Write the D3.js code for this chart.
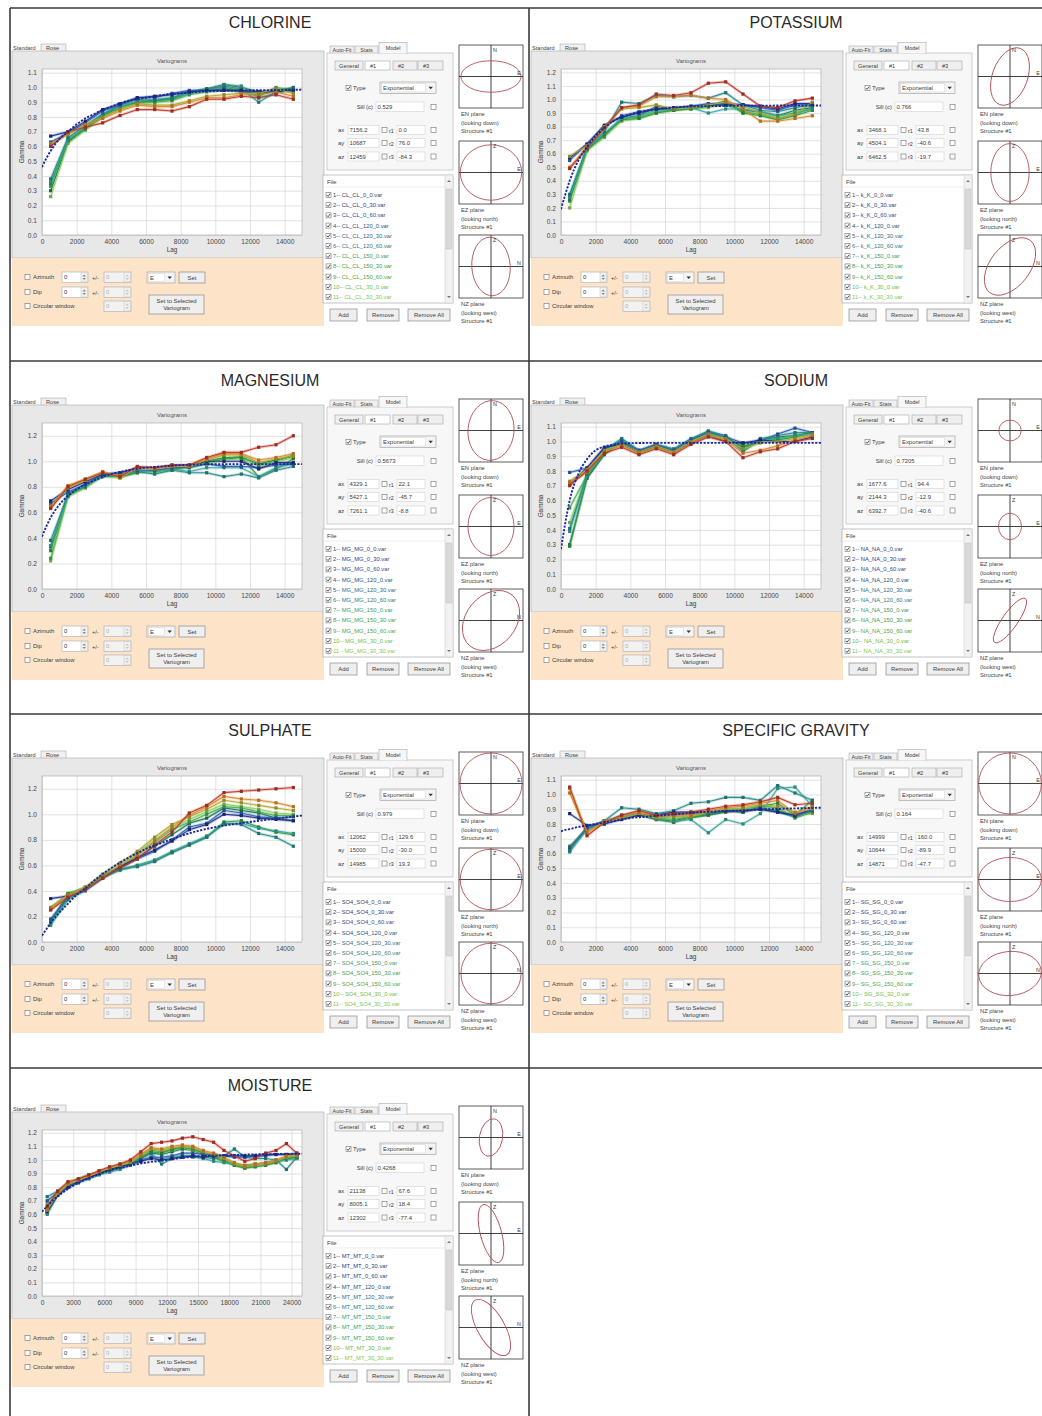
<!DOCTYPE html>
<html>
<head>
<meta charset="utf-8">
<script src="https://cdn.jsdelivr.net/npm/d3@7"></script>
<style>
  body { margin: 0; background: #fff; }
  svg { display: block; font-family: "Liberation Sans", Arial, sans-serif; }
</style>
</head>
<body>
<svg id="fig" width="1042" height="1416"></svg>
<script>
// ---------- data ----------
const titles = ["CHLORINE", "POTASSIUM", "MAGNESIUM", "SODIUM", "SULPHATE", "SPECIFIC GRAVITY", "MOISTURE"];
const filePrefixes = ["CL_CL", "k_K", "MG_MG", "NA_NA", "SO4_SO4", "SG_SG", "MT_MT"];
const fileSuffixes = ["0_0", "0_30", "0_60", "120_0", "120_30", "120_60", "150_0", "150_30", "150_60", "30_0", "30_30"];

const lags15k = [500, 1500, 2500, 3500, 4500, 5500, 6500, 7500, 8500, 9500, 10500, 11500, 12500, 13500, 14500];
const lags25k = [500, 1500, 2500, 3500, 4500, 5500, 6500, 7500, 8500, 9500, 10500, 11500, 12500, 13500, 14500,
                 15500, 16500, 17500, 18500, 19500, 20500, 21500, 22500, 23500, 24500];
const xTicks15k = [0, 2000, 4000, 6000, 8000, 10000, 12000, 14000];
const xTicks25k = [0, 3000, 6000, 9000, 12000, 15000, 18000, 21000, 24000];
const xMax = [15000, 15000, 15000, 15000, 15000, 15000, 25000];

const yTicks11 = [0, 0.1, 0.2, 0.3, 0.4, 0.5, 0.6, 0.7, 0.8, 0.9, 1.0, 1.1];
const yTicks12 = [0, 0.1, 0.2, 0.3, 0.4, 0.5, 0.6, 0.7, 0.8, 0.9, 1.0, 1.1, 1.2];
const yTicksBy2 = [0, 0.2, 0.4, 0.6, 0.8, 1.0, 1.2];
const yMax = [1.125, 1.225, 1.3, 1.125, 1.3, 1.125, 1.22];

// experimental variograms (gamma per lag), files 1..11
const chlorine = [
  [0.60, 0.70, 0.73, 0.76, 0.81, 0.85, 0.85, 0.84, 0.87, 0.92, 0.92, 0.94, 0.93, 0.95, 0.92],
  [0.61, 0.69, 0.74, 0.79, 0.84, 0.88, 0.87, 0.87, 0.90, 0.93, 0.93, 0.95, 0.95, 0.97, 0.94],
  [0.62, 0.68, 0.75, 0.80, 0.85, 0.89, 0.88, 0.88, 0.91, 0.94, 0.95, 0.96, 0.96, 0.99, 0.96],
  [0.67, 0.70, 0.77, 0.85, 0.89, 0.93, 0.94, 0.95, 0.97, 0.98, 0.98, 0.98, 0.97, 0.97, 0.98],
  [0.63, 0.69, 0.76, 0.84, 0.88, 0.93, 0.93, 0.96, 0.98, 0.98, 0.99, 0.97, 0.96, 0.98, 0.98],
  [0.38, 0.66, 0.74, 0.82, 0.88, 0.92, 0.91, 0.93, 0.97, 0.99, 1.01, 0.99, 0.90, 0.97, 0.99],
  [0.36, 0.65, 0.73, 0.82, 0.87, 0.91, 0.92, 0.93, 0.96, 0.98, 1.02, 1.01, 0.93, 0.96, 0.99],
  [0.35, 0.64, 0.72, 0.81, 0.87, 0.90, 0.91, 0.92, 0.96, 0.99, 1.00, 0.98, 0.95, 0.98, 0.99],
  [0.33, 0.64, 0.72, 0.80, 0.86, 0.90, 0.90, 0.91, 0.95, 0.97, 0.98, 0.97, 0.94, 1.00, 0.98],
  [0.26, 0.62, 0.71, 0.80, 0.86, 0.89, 0.90, 0.92, 0.96, 0.98, 1.00, 0.99, 0.96, 0.99, 0.97],
  [0.30, 0.63, 0.72, 0.81, 0.86, 0.90, 0.91, 0.92, 0.97, 0.99, 1.02, 1.00, 0.97, 0.98, 1.00]
];
const potassium = [
  [0.49, 0.64, 0.79, 0.94, 0.96, 1.04, 1.03, 1.05, 1.12, 1.13, 1.04, 0.95, 0.94, 0.99, 1.01],
  [0.50, 0.65, 0.78, 0.94, 0.95, 1.02, 1.02, 1.03, 1.01, 1.00, 0.93, 0.84, 0.84, 0.86, 0.88],
  [0.58, 0.66, 0.80, 0.93, 0.94, 0.96, 0.93, 0.94, 0.96, 0.98, 0.95, 0.90, 0.86, 0.89, 0.98],
  [0.57, 0.67, 0.81, 0.87, 0.90, 0.93, 0.94, 0.95, 0.96, 0.96, 0.96, 0.95, 0.93, 0.97, 0.97],
  [0.55, 0.67, 0.80, 0.88, 0.91, 0.93, 0.93, 0.95, 0.97, 0.97, 0.96, 0.94, 0.92, 0.96, 0.96],
  [0.30, 0.65, 0.76, 0.98, 0.97, 1.03, 1.02, 1.03, 1.01, 1.05, 0.96, 0.92, 0.91, 0.94, 0.96],
  [0.28, 0.64, 0.75, 0.86, 0.88, 0.92, 0.93, 0.94, 0.90, 0.93, 0.93, 0.91, 0.88, 0.90, 0.93],
  [0.26, 0.63, 0.74, 0.85, 0.86, 0.90, 0.92, 0.93, 0.95, 0.99, 0.90, 0.88, 0.85, 0.88, 0.92],
  [0.25, 0.64, 0.73, 0.86, 0.87, 0.91, 0.92, 0.94, 0.96, 0.98, 0.91, 0.89, 0.86, 0.89, 0.94],
  [0.20, 0.62, 0.72, 0.84, 0.86, 0.90, 0.92, 0.93, 0.94, 0.97, 0.90, 0.90, 0.87, 0.91, 0.93],
  [0.29, 0.63, 0.74, 0.86, 0.88, 0.95, 0.93, 0.94, 0.95, 0.96, 0.92, 0.91, 0.88, 0.92, 0.94]
];
const magnesium = [
  [0.63, 0.80, 0.86, 0.91, 0.88, 0.96, 0.95, 0.97, 0.97, 1.03, 1.07, 1.07, 1.11, 1.13, 1.20],
  [0.65, 0.81, 0.86, 0.92, 0.87, 0.95, 0.94, 0.96, 0.97, 1.02, 1.06, 1.06, 1.01, 1.03, 1.06],
  [0.64, 0.79, 0.85, 0.91, 0.89, 0.94, 0.95, 0.96, 0.96, 1.01, 1.05, 1.05, 0.99, 1.02, 1.04],
  [0.69, 0.78, 0.84, 0.90, 0.91, 0.95, 0.95, 0.97, 0.97, 1.00, 1.00, 1.00, 0.94, 0.99, 0.99],
  [0.67, 0.76, 0.82, 0.90, 0.90, 0.93, 0.93, 0.95, 0.95, 0.98, 0.96, 0.96, 0.95, 0.97, 0.98],
  [0.38, 0.74, 0.80, 0.89, 0.88, 0.92, 0.90, 0.93, 0.91, 0.91, 0.88, 0.90, 0.87, 0.93, 0.96],
  [0.34, 0.73, 0.81, 0.88, 0.89, 0.92, 0.92, 0.94, 0.92, 0.95, 0.95, 0.95, 0.88, 0.95, 0.98],
  [0.30, 0.75, 0.81, 0.89, 0.88, 0.91, 0.93, 0.94, 0.96, 1.00, 1.03, 1.03, 0.88, 0.94, 1.02],
  [0.24, 0.73, 0.80, 0.89, 0.89, 0.92, 0.92, 0.93, 0.96, 0.99, 1.02, 1.04, 0.97, 1.00, 1.05],
  [0.22, 0.72, 0.79, 0.88, 0.87, 0.91, 0.91, 0.93, 0.95, 0.98, 1.01, 1.02, 0.96, 0.99, 1.03],
  [0.33, 0.74, 0.82, 0.89, 0.88, 0.92, 0.92, 0.94, 0.96, 0.99, 1.02, 1.03, 0.98, 1.01, 1.04]
];
const sodium = [
  [0.70, 0.80, 0.92, 0.96, 0.91, 0.95, 0.91, 0.98, 1.03, 1.00, 0.89, 0.93, 0.95, 1.00, 1.02],
  [0.72, 0.79, 0.93, 0.97, 0.92, 0.96, 0.92, 0.99, 1.04, 1.01, 0.92, 0.94, 0.97, 1.01, 1.04],
  [0.73, 0.81, 0.94, 0.98, 0.93, 0.97, 0.93, 1.00, 1.05, 1.02, 0.95, 0.99, 1.00, 1.02, 1.05],
  [0.71, 0.82, 0.96, 0.98, 0.93, 0.97, 0.93, 0.99, 1.04, 1.00, 0.99, 1.01, 1.00, 1.00, 1.03],
  [0.79, 0.82, 0.95, 1.00, 0.94, 0.98, 0.94, 1.01, 1.06, 1.03, 0.99, 1.00, 1.05, 1.09, 1.06],
  [0.41, 0.78, 0.94, 1.02, 0.94, 0.98, 0.95, 1.02, 1.07, 1.04, 0.94, 1.02, 1.04, 1.06, 1.06],
  [0.39, 0.77, 0.93, 1.01, 0.93, 0.97, 0.94, 1.01, 1.06, 1.03, 0.93, 1.01, 1.02, 1.04, 1.05],
  [0.29, 0.76, 0.92, 1.00, 0.92, 0.96, 0.93, 1.01, 1.07, 1.03, 0.96, 1.01, 1.01, 1.03, 1.06],
  [0.55, 0.77, 0.93, 0.99, 0.93, 0.97, 0.92, 1.00, 1.05, 1.02, 0.97, 1.00, 1.02, 1.04, 1.05],
  [0.45, 0.78, 0.92, 1.00, 0.92, 0.96, 0.93, 1.00, 1.06, 1.03, 0.98, 1.00, 1.01, 1.03, 1.04],
  [0.30, 0.75, 0.91, 1.00, 0.93, 0.97, 0.94, 1.01, 1.05, 1.02, 0.96, 1.01, 1.03, 1.04, 1.06]
];
const sulphate = [
  [0.25, 0.35, 0.41, 0.50, 0.58, 0.65, 0.76, 0.86, 1.01, 1.07, 1.17, 1.18, 1.19, 1.20, 1.21],
  [0.26, 0.36, 0.42, 0.51, 0.60, 0.68, 0.79, 0.90, 0.99, 1.06, 1.14, 1.12, 1.11, 1.09, 1.06],
  [0.27, 0.37, 0.43, 0.53, 0.62, 0.71, 0.82, 0.92, 0.98, 1.04, 1.11, 1.09, 1.07, 1.05, 1.03],
  [0.34, 0.36, 0.42, 0.51, 0.59, 0.66, 0.72, 0.79, 0.88, 0.92, 1.00, 0.99, 0.97, 0.96, 0.95],
  [0.18, 0.35, 0.41, 0.50, 0.58, 0.65, 0.71, 0.80, 0.90, 0.93, 1.03, 1.01, 0.98, 0.97, 0.98],
  [0.16, 0.34, 0.40, 0.50, 0.57, 0.59, 0.63, 0.70, 0.76, 0.82, 0.93, 0.92, 0.85, 0.82, 0.75],
  [0.13, 0.33, 0.41, 0.51, 0.56, 0.60, 0.64, 0.71, 0.77, 0.83, 0.92, 0.93, 0.89, 0.87, 0.85],
  [0.15, 0.38, 0.42, 0.52, 0.57, 0.60, 0.64, 0.70, 0.76, 0.82, 0.94, 0.95, 0.90, 0.86, 0.84],
  [0.27, 0.37, 0.43, 0.52, 0.59, 0.68, 0.78, 0.88, 0.94, 1.00, 1.06, 1.05, 1.02, 0.99, 0.99],
  [0.26, 0.38, 0.42, 0.53, 0.60, 0.70, 0.80, 0.89, 0.96, 1.02, 1.08, 1.06, 1.04, 1.01, 1.00],
  [0.17, 0.36, 0.41, 0.51, 0.58, 0.66, 0.75, 0.84, 0.93, 0.97, 1.05, 1.03, 1.01, 0.97, 0.95]
];
const specificGravity = [
  [1.05, 0.72, 0.81, 0.86, 0.89, 0.86, 0.87, 0.88, 0.90, 0.92, 0.93, 0.95, 0.98, 0.93, 0.94],
  [1.01, 0.74, 0.82, 0.85, 0.88, 0.85, 0.86, 0.86, 0.89, 0.91, 0.92, 0.94, 0.96, 0.87, 0.92],
  [1.04, 0.75, 0.81, 0.84, 0.87, 0.84, 0.85, 0.85, 0.88, 0.90, 0.90, 0.93, 0.92, 0.88, 0.90],
  [0.87, 0.79, 0.80, 0.83, 0.86, 0.86, 0.88, 0.88, 0.88, 0.89, 0.89, 0.90, 0.88, 0.86, 0.90],
  [0.64, 0.77, 0.82, 0.84, 0.87, 0.85, 0.86, 0.87, 0.87, 0.89, 0.88, 0.91, 0.89, 0.85, 0.89],
  [0.62, 0.78, 0.82, 0.91, 0.90, 0.87, 0.89, 0.94, 0.95, 0.98, 0.98, 0.96, 1.06, 1.01, 0.96],
  [0.61, 0.76, 0.81, 0.86, 0.86, 0.84, 0.82, 0.83, 0.74, 0.83, 0.80, 0.87, 1.04, 1.05, 0.92],
  [0.63, 0.77, 0.81, 0.85, 0.87, 0.83, 0.81, 0.84, 0.86, 0.89, 0.88, 0.92, 0.94, 0.86, 0.96],
  [0.65, 0.76, 0.82, 0.84, 0.86, 0.84, 0.83, 0.85, 0.87, 0.90, 0.90, 0.92, 0.91, 0.84, 0.88],
  [0.62, 0.78, 0.80, 0.85, 0.87, 0.85, 0.84, 0.86, 0.88, 0.90, 0.91, 0.93, 0.90, 0.86, 0.87],
  [0.64, 0.77, 0.81, 0.84, 0.86, 0.83, 0.82, 0.85, 0.86, 0.88, 0.89, 0.90, 0.88, 0.85, 0.89]
];
const moisture = [
  [0.66, 0.77, 0.84, 0.86, 0.89, 0.92, 0.95, 0.97, 1.00, 1.06, 1.12, 1.13, 1.14, 1.16, 1.17, 1.15, 1.13, 1.07, 1.03, 0.99, 1.01, 1.05, 1.07, 1.12, 1.05],
  [0.64, 0.76, 0.83, 0.85, 0.88, 0.92, 0.94, 0.97, 0.99, 1.04, 1.09, 1.08, 1.10, 1.11, 1.10, 1.07, 1.05, 1.02, 0.98, 0.96, 0.97, 0.98, 1.00, 1.03, 1.04],
  [0.63, 0.75, 0.82, 0.85, 0.88, 0.91, 0.94, 0.96, 0.98, 1.03, 1.08, 1.07, 1.09, 1.10, 1.09, 1.06, 1.04, 1.01, 0.97, 0.95, 0.96, 0.97, 0.99, 1.02, 1.03],
  [0.62, 0.74, 0.80, 0.84, 0.87, 0.90, 0.93, 0.95, 0.97, 0.99, 1.01, 1.00, 1.01, 1.02, 1.03, 1.02, 1.03, 1.03, 1.03, 1.03, 1.03, 1.04, 1.04, 1.04, 1.04],
  [0.70, 0.76, 0.81, 0.84, 0.88, 0.91, 0.93, 0.95, 0.97, 1.00, 1.02, 1.02, 1.03, 1.05, 1.05, 1.04, 1.04, 1.03, 1.02, 1.02, 1.03, 1.03, 1.04, 1.04, 1.05],
  [0.73, 0.77, 0.82, 0.86, 0.89, 0.91, 0.93, 0.96, 0.98, 1.01, 1.05, 0.97, 1.01, 1.03, 1.03, 1.02, 1.01, 1.03, 1.08, 1.02, 1.01, 1.01, 1.00, 0.93, 1.02],
  [0.60, 0.74, 0.80, 0.83, 0.86, 0.89, 0.91, 0.93, 0.96, 0.99, 1.02, 1.01, 1.02, 1.03, 1.02, 1.01, 0.99, 0.98, 0.97, 0.96, 0.97, 0.98, 0.99, 1.00, 1.01],
  [0.61, 0.75, 0.81, 0.84, 0.87, 0.90, 0.92, 0.94, 0.97, 1.02, 1.06, 1.05, 1.08, 1.09, 1.08, 1.05, 1.02, 0.99, 0.96, 0.94, 0.95, 0.96, 0.98, 1.01, 1.02],
  [0.65, 0.76, 0.82, 0.85, 0.88, 0.90, 0.93, 0.95, 0.98, 1.03, 1.07, 1.06, 1.07, 1.10, 1.09, 1.06, 1.03, 1.00, 0.97, 0.95, 0.96, 0.97, 0.99, 1.02, 1.03],
  [0.68, 0.77, 0.83, 0.86, 0.89, 0.91, 0.94, 0.96, 0.99, 1.04, 1.08, 1.07, 1.08, 1.09, 1.07, 1.05, 1.02, 0.99, 0.96, 0.94, 0.95, 0.97, 0.98, 1.00, 1.01],
  [0.62, 0.75, 0.81, 0.84, 0.87, 0.90, 0.92, 0.95, 0.97, 1.01, 1.05, 1.04, 1.06, 1.08, 1.07, 1.04, 1.02, 0.99, 0.97, 0.95, 0.96, 0.97, 0.99, 1.01, 1.02]
];

// fitted exponential models, sampled along the lag axis
const modelLag15k = [0, 250, 500, 1000, 1500, 2000, 2500, 3000, 4000, 5000, 6000, 7000, 8000, 9000, 10000, 12000, 15000];
const modelLag25k = [0, 500, 1000, 2000, 3000, 4000, 5000, 6000, 8000, 10000, 12000, 14000, 16000, 18000, 20000, 22000, 25000];
const chlorineModel  = [0.46, 0.52, 0.57, 0.65, 0.70, 0.75, 0.79, 0.82, 0.87, 0.91, 0.93, 0.95, 0.96, 0.97, 0.975, 0.98, 0.985];
const potassiumModel = [0.19, 0.30, 0.40, 0.55, 0.65, 0.73, 0.79, 0.84, 0.89, 0.92, 0.935, 0.945, 0.95, 0.952, 0.954, 0.955, 0.956];
const magnesiumModel = [0.41, 0.49, 0.56, 0.66, 0.73, 0.78, 0.82, 0.85, 0.90, 0.93, 0.95, 0.96, 0.97, 0.975, 0.977, 0.978, 0.978];
const sodiumModel    = [0.27, 0.45, 0.60, 0.78, 0.88, 0.94, 0.965, 0.978, 0.988, 0.99, 0.99, 0.99, 0.99, 0.99, 0.99, 0.99, 0.99];
const sulphateModel  = [0.05, 0.10, 0.15, 0.23, 0.30, 0.37, 0.42, 0.48, 0.58, 0.66, 0.73, 0.78, 0.83, 0.87, 0.90, 0.94, 0.99];
const sgModel        = [0.75, 0.76, 0.765, 0.78, 0.79, 0.80, 0.81, 0.82, 0.84, 0.85, 0.86, 0.87, 0.88, 0.885, 0.89, 0.90, 0.91];
const moistureModel  = [0.62, 0.66, 0.70, 0.76, 0.81, 0.85, 0.88, 0.91, 0.95, 0.98, 1.00, 1.02, 1.03, 1.035, 1.04, 1.043, 1.045];

// model parameters shown in the Model tab
const sillValues = ["0.529", "0.766", "0.5673", "0.7205", "0.979", "0.164", "0.4268"];
const rangeX = ["7156.2", "3468.1", "4329.1", "1677.6", "12062", "14999", "21138"];
const rangeY = ["10687", "4504.1", "5427.1", "2144.3", "15000", "10644", "8005.1"];
const rangeZ = ["12459", "6462.5", "7261.1", "6392.7", "14985", "14871", "12302"];
const rot1 = ["0.0", "43.8", "22.1", "94.4", "129.6", "160.0", "67.6"];
const rot2 = ["76.0", "-40.6", "-45.7", "-12.9", "-30.0", "-89.9", "18.4"];
const rot3 = ["-84.3", "-19.7", "-8.8", "-40.6", "19.3", "-47.7", "-77.4"];

// anisotropy ellipses: [semi-axis along horizontal, semi-axis along vertical, rotation deg]
const ellipseEN = [[0.94, 0.50, 0], [0.55, 0.95, 20], [0.72, 0.95, 5], [0.35, 0.33, 0], [0.97, 0.97, 0], [0.98, 0.97, 0], [0.36, 0.60, 10]];
const ellipseEZ = [[0.96, 0.88, 0], [0.60, 0.92, 0], [0.72, 0.92, 0], [0.36, 0.42, 0], [0.96, 0.96, 0], [0.98, 0.70, 0], [0.33, 0.95, -15]];
const ellipseNZ = [[0.60, 0.93, -4], [0.62, 1.05, 38], [0.78, 1.05, 40], [0.24, 0.85, 35], [0.94, 0.96, 0], [0.98, 0.70, -5], [0.42, 1.0, -30]];
const planeNames = ["EN plane", "EZ plane", "NZ plane"];
const planeViews = ["(looking down)", "(looking north)", "(looking west)"];
const planeAxes = [["N", "E"], ["Z", "E"], ["Z", "N"]];

// ---------- styling ----------
const lineColors = ["#c0392b", "#d98b2b", "#b3a633", "#1f2e8a", "#2f62b3", "#2a8c8c", "#3aa79c", "#2f9a3f", "#4cb050", "#88cc66", "#1f7a55"];
const fileTextColors = ["#3b4566", "#2d3b86", "#33498a", "#2c5576", "#2f6c86", "#2e7e80", "#3d9a6a", "#3b9f4b", "#4aa84b", "#6ac04a", "#80c852"];
const UI_FONT = "'Liberation Sans', Arial, sans-serif";

const panels = titles.map((title, i) => ({
  title, prefix: filePrefixes[i],
  series: [chlorine, potassium, magnesium, sodium, sulphate, specificGravity, moisture][i],
  lags: i === 6 ? lags25k : lags15k,
  xTicks: i === 6 ? xTicks25k : xTicks15k,
  xMax: xMax[i],
  yTicks: [yTicks11, yTicks12, yTicksBy2, yTicks11, yTicksBy2, yTicks11, yTicks12][i],
  yMax: yMax[i],
  modelLag: i === 6 ? modelLag25k : modelLag15k,
  model: [chlorineModel, potassiumModel, magnesiumModel, sodiumModel, sulphateModel, sgModel, moistureModel][i],
  ellipses: [ellipseEN[i], ellipseEZ[i], ellipseNZ[i]],
  params: { sill: sillValues[i], ax: rangeX[i], ay: rangeY[i], az: rangeZ[i], r1: rot1[i], r2: rot2[i], r3: rot3[i] }
}));

// ---------- layout ----------
const rowTop = [0, 354, 707, 1061];
const colLeft = [0, 519];
const titleCX = [270, 796];
const titleCY = [22, 380, 730, 1085];

const svg = d3.select("#fig");
svg.append("rect").attr("width", 1042).attr("height", 1416).attr("fill", "#fff");

// ---------- small widget helpers ----------
function txt(g, x, y, s, size, opt = {}) {
  return g.append("text").attr("x", x).attr("y", y).attr("font-size", size)
    .attr("font-family", UI_FONT)
    .attr("fill", opt.fill || "#3c3c3c").attr("text-anchor", opt.anchor || "start")
    .attr("dominant-baseline", "central").text(s);
}
function rect(g, x, y, w, h, fill, stroke, sw) {
  return g.append("rect").attr("x", x).attr("y", y).attr("width", w).attr("height", h)
    .attr("fill", fill).attr("stroke", stroke || "none").attr("stroke-width", sw || 0.6);
}
function checkbox(g, x, y, checked) {
  rect(g, x, y, 5, 5, "#fff", "#707070", 0.6);
  if (checked) {
    g.append("path").attr("d", `M${x + 1},${y + 2.6}L${x + 2.1},${y + 3.9}L${x + 4.1},${y + 1.1}`)
      .attr("fill", "none").attr("stroke", "#2a2a2a").attr("stroke-width", 0.8);
  }
}
function button(g, x, y, w, h, lines) {
  rect(g, x, y, w, h, "#efefef", "#8a8a8a", 0.7);
  lines.forEach((l, k) => txt(g, x + w / 2, y + h / 2 + (k - (lines.length - 1) / 2) * 6.2, l, 5.9, { anchor: "middle" }));
}
function spinner(g, x, y, w, h, val, disabled) {
  rect(g, x, y, w, h, disabled ? "#f2f2f2" : "#fff", "#aaa", 0.6);
  txt(g, x + 2, y + h / 2, val, 5.9, { fill: disabled ? "#b0b0b0" : "#333" });
  rect(g, x + w - 7, y + 0.5, 6.5, h - 1, "#f0f0f0", "#c4c4c4", 0.5);
  g.append("path")
    .attr("d", `M${x + w - 5.6},${y + h / 2 - 0.8}l1.8,-2l1.8,2z M${x + w - 5.6},${y + h / 2 + 0.8}l1.8,2l1.8,-2z`)
    .attr("fill", disabled ? "#c8c8c8" : "#8a8a8a");
}
function dropdown(g, x, y, w, h, val) {
  rect(g, x, y, w, h, "#f4f4f4", "#9a9a9a", 0.6);
  rect(g, x + 1.5, y + 1.5, w - 12, h - 3, "#fff", "#c6c6c6", 0.4);
  txt(g, x + 3, y + h / 2, val, 5.9);
  g.append("path").attr("d", `M${x + w - 7.5},${y + h / 2 - 1}l2.2,2.4l2.2,-2.4z`).attr("fill", "#333");
}

// ---------- one variogram window ----------
function drawPanel(p, i) {
  const col = i % 2, row = Math.floor(i / 2);
  const g = svg.append("g").attr("transform", `translate(${colLeft[col]},${rowTop[row]})`);

  svg.append("text").attr("x", titleCX[col]).attr("y", titleCY[row])
    .attr("text-anchor", "middle").attr("dominant-baseline", "central")
    .attr("font-family", "'Liberation Sans', Arial, sans-serif").attr("font-size", 16)
    .attr("fill", "#2a2a2a").text(p.title);

  // Standard / Rose tabs
  txt(g, 13, 47.5, "Standard", 5.6);
  rect(g, 41, 44, 25, 7.5, "#f0f0f0", "#a8a8a8", 0.6);
  txt(g, 46, 48, "Rose", 5.6);

  // chart frame
  rect(g, 12, 51, 312, 207, "#e8e8e8", "#b3b3b3", 0.7);
  txt(g, 172, 60.5, "Variograms", 6, { anchor: "middle", fill: "#555" });

  const x = d3.scaleLinear().domain([0, p.xMax]).range([42, 302]);
  const y = d3.scaleLinear().domain([0, p.yMax]).range([235, 69]);

  rect(g, 42, 69, 260, 166, "#fff", "none");
  const gx = g.append("g").attr("transform", "translate(0,235)")
    .call(d3.axisBottom(x).tickValues(p.xTicks).tickSize(-166).tickPadding(4).tickFormat(d3.format("d")));
  const gy = g.append("g").attr("transform", "translate(42,0)")
    .call(d3.axisLeft(y).tickValues(p.yTicks).tickSize(-260).tickPadding(5).tickFormat(d3.format(".1f")));
  [gx, gy].forEach(a => {
    a.select(".domain").remove();
    a.selectAll("line").attr("stroke", "#d6d6d6").attr("stroke-width", 0.7);
    a.selectAll("text").attr("font-size", 6.6).attr("fill", "#474747").attr("font-family", UI_FONT);
  });
  rect(g, 42, 69, 260, 166, "none", "#a2a2a2", 0.6);

  txt(g, 172, 249.5, "Lag", 6.4, { anchor: "middle" });
  g.append("text").attr("transform", "translate(21,152) rotate(-90)")
    .attr("text-anchor", "middle").attr("dominant-baseline", "central")
    .attr("font-size", 6.4).attr("font-family", UI_FONT).attr("fill", "#3c3c3c").text("Gamma");

  const clipId = `plot-clip-${i}`;
  g.append("clipPath").attr("id", clipId).append("rect").attr("x", 42).attr("y", 69).attr("width", 260).attr("height", 166);
  const plot = g.append("g").attr("clip-path", `url(#${clipId})`);

  const line = d3.line().x((d, k) => x(p.lags[k])).y(d => y(d));
  const order = d3.range(p.series.length).reverse();
  order.forEach(k => {
    plot.append("path").attr("d", line(p.series[k])).attr("fill", "none")
      .attr("stroke", lineColors[k]).attr("stroke-width", 3).attr("stroke-opacity", 0.25);
  });
  order.forEach(k => {
    const s = p.series[k];
    plot.append("path").attr("d", line(s)).attr("fill", "none")
      .attr("stroke", lineColors[k]).attr("stroke-width", 1.1).attr("stroke-opacity", 0.95);
    plot.selectAll(null).data(s).join("rect")
      .attr("x", (d, j) => x(p.lags[j]) - 1.6).attr("y", d => y(d) - 1.6)
      .attr("width", 3.2).attr("height", 3.2)
      .attr("fill", d3.color(lineColors[k]).darker(0.6));
  });

  const modelLine = d3.line().curve(d3.curveMonotoneX)
    .x((d, k) => x(p.modelLag[k])).y(d => y(d));
  plot.append("path").attr("d", modelLine(p.model)).attr("fill", "none")
    .attr("stroke", "#1b2a9a").attr("stroke-width", 1.9).attr("stroke-dasharray", "2.2,1.4");

  // lag window controls
  rect(g, 12, 258, 312, 68, "#fde4c9", "none");
  checkbox(g, 25, 274.5, false); txt(g, 33, 277, "Azimuth", 5.9);
  spinner(g, 62, 272, 26, 10.5, "0", false);
  txt(g, 92, 277.5, "+/-", 5.6); spinner(g, 104, 272, 27, 10.5, "0", true);
  checkbox(g, 25, 289.5, false); txt(g, 33, 292, "Dip", 5.9);
  spinner(g, 62, 287, 26, 10.5, "0", false);
  txt(g, 92, 292.5, "+/-", 5.6); spinner(g, 104, 287, 27, 10.5, "0", true);
  checkbox(g, 25, 303.5, false); txt(g, 33, 306, "Circular window", 5.9);
  spinner(g, 104, 301, 27, 10.5, "0", true);
  dropdown(g, 147, 272, 28, 11, "E");
  button(g, 179, 272, 26, 11, ["Set"]);
  button(g, 149, 295, 55, 19, ["Set to Selected", "Variogram"]);

  // Model tab
  rect(g, 330, 46, 24, 7.5, "#f0f0f0", "#ababab", 0.6); txt(g, 342, 50, "Auto-Fit", 5.4, { anchor: "middle" });
  rect(g, 355, 46, 23, 7.5, "#f0f0f0", "#ababab", 0.6); txt(g, 366.5, 50, "Stats", 5.4, { anchor: "middle" });
  rect(g, 327, 53, 126, 117, "#f7f7f7", "#b9b9b9", 0.7);
  rect(g, 379, 42.5, 28, 11, "#f7f7f7", "#ababab", 0.6);
  g.append("line").attr("x1", 379.4).attr("x2", 406.6).attr("y1", 53.1).attr("y2", 53.1).attr("stroke", "#f7f7f7").attr("stroke-width", 1);
  txt(g, 393, 47.5, "Model", 5.4, { anchor: "middle" });

  [[335, 28, "General"], [365, 25, "#1"], [393, 24, "#2"], [418, 25, "#3"]].forEach(([bx, bw, l], k) => {
    rect(g, bx, 61, bw, 9, k === 1 ? "#fff" : "#efefef", "#a5a5a5", 0.6);
    txt(g, k === 0 ? bx + bw / 2 : bx + 5, 65.5, l, 5.6, { anchor: k === 0 ? "middle" : "start" });
  });

  checkbox(g, 346, 85.5, true); txt(g, 353, 88, "Type", 5.9);
  dropdown(g, 380, 82, 56, 11.5, "Exponential");
  txt(g, 373, 107, "Sill (c)", 5.9, { anchor: "end" });
  rect(g, 376, 102, 48, 9.5, "#fff", "#c9c9c9", 0.5); txt(g, 377.5, 107, p.params.sill, 5.9);
  checkbox(g, 431, 104.5, false);

  [["ax", p.params.ax, "r1", p.params.r1, 130], ["ay", p.params.ay, "r2", p.params.r2, 143], ["az", p.params.az, "r3", p.params.r3, 156.5]]
    .forEach(([l, v, rl, rv, cy]) => {
      txt(g, 341, cy, l, 5.9, { anchor: "middle" });
      rect(g, 348, cy - 4.5, 31, 9, "#fff", "#c9c9c9", 0.5); txt(g, 349.5, cy, v, 5.9);
      checkbox(g, 382, cy - 2.5, false);
      txt(g, 389, cy + 0.8, rl, 5.4);
      rect(g, 397, cy - 4.5, 28, 9, "#fff", "#c9c9c9", 0.5); txt(g, 398.5, cy, rv, 5.9);
      checkbox(g, 431, cy - 2.5, false);
    });

  // file list
  rect(g, 323, 175, 130, 128, "#fff", "#a9a9a9", 0.7);
  txt(g, 327, 182, "File", 5.9);
  g.append("line").attr("x1", 323).attr("x2", 445).attr("y1", 187).attr("y2", 187).attr("stroke", "#e0e0e0").attr("stroke-width", 0.6);
  rect(g, 445, 175, 8, 128, "#f1f1f1", "#c9c9c9", 0.5);
  rect(g, 446, 189, 6, 60, "#d9d9d9", "#bcbcbc", 0.4);
  g.append("path").attr("d", "M447,182l2,-2l2,2z M447,296l2,2l2,-2z").attr("fill", "#777");
  fileSuffixes.forEach((suf, k) => {
    const cy = 195 + k * 10.2;
    checkbox(g, 326, cy - 2.5, true);
    txt(g, 333, cy, `${k + 1}-- ${p.prefix}_${suf}.var`, 5.8, { fill: fileTextColors[k] });
  });

  button(g, 330, 309, 27, 12, ["Add"]);
  button(g, 367, 309, 32, 12, ["Remove"]);
  button(g, 408, 309, 42, 12, ["Remove All"]);

  // anisotropy ellipse views
  const boxTops = [45, 141, 235];
  p.ellipses.forEach((e, k) => {
    const bx = 459, by = boxTops[k], bw = 64, bh = 63;
    const ex = d3.scaleLinear().domain([-1, 1]).range([bx, bx + bw]);
    const ey = d3.scaleLinear().domain([-1, 1]).range([by + bh, by]);
    rect(g, bx, by, bw, bh, "#fff", "#4d4d4d", 0.9);
    g.append("line").attr("x1", ex(0)).attr("x2", ex(0)).attr("y1", by).attr("y2", by + bh).attr("stroke", "#111").attr("stroke-width", 0.8);
    g.append("line").attr("x1", bx).attr("x2", bx + bw).attr("y1", ey(0)).attr("y2", ey(0)).attr("stroke", "#111").attr("stroke-width", 0.8);
    g.append("ellipse").attr("cx", ex(0)).attr("cy", ey(0))
      .attr("rx", ex(e[0]) - ex(0)).attr("ry", ey(0) - ey(e[1]))
      .attr("transform", `rotate(${e[2]},${ex(0)},${ey(0)})`)
      .attr("fill", "none").attr("stroke", "#b2525a").attr("stroke-width", 0.9);
    txt(g, ex(0) + 2, by + 4.5, planeAxes[k][0], 5.4);
    txt(g, bx + bw - 4, ey(0) - 3.5, planeAxes[k][1], 5.4, { anchor: "middle" });
    [planeNames[k], planeViews[k], "Structure #1"].forEach((l, m) => txt(g, 461, by + bh + 6 + m * 8.5, l, 5.8, { fill: "#444" }));
  });
}

panels.forEach(drawPanel);

// window frame lines
const frame = svg.append("g").attr("stroke", "#3a3a3a").attr("stroke-width", 1.6);
[[10, 8, 1042, 8], [10, 8, 10, 1416], [529, 8, 529, 1416], [10, 361, 1042, 361], [10, 714, 1042, 714], [10, 1068, 1042, 1068]]
  .forEach(([x1, y1, x2, y2]) => frame.append("line").attr("x1", x1).attr("y1", y1).attr("x2", x2).attr("y2", y2));
</script>
</body>
</html>
